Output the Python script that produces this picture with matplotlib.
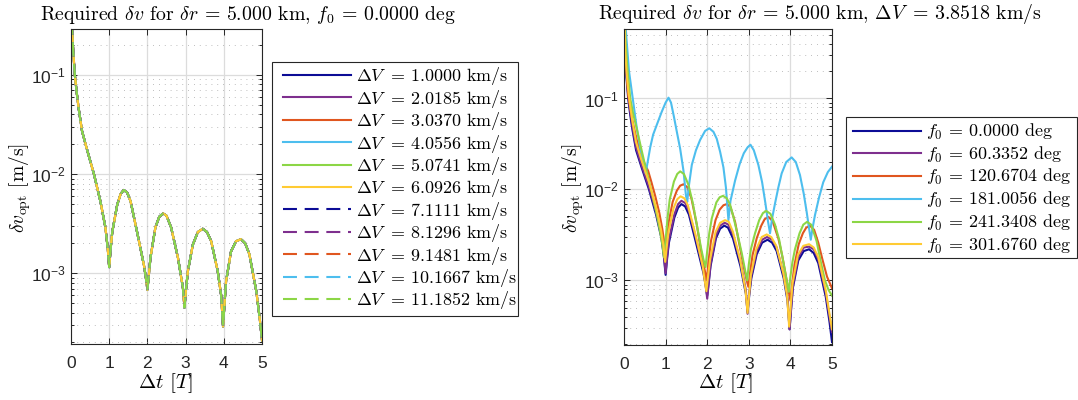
import matplotlib
matplotlib.use('Agg')
import matplotlib.pyplot as plt
from matplotlib.font_manager import FontProperties
from matplotlib.ticker import LogLocator, NullFormatter, FixedLocator
from matplotlib.patches import Rectangle

plt.rcParams['font.family'] = ['Liberation Sans', 'DejaVu Sans']
plt.rcParams['mathtext.fontset'] = 'custom'
plt.rcParams['mathtext.rm'] = 'Liberation Sans'
plt.rcParams['mathtext.it'] = 'Liberation Sans:italic'
plt.rcParams['mathtext.bf'] = 'Liberation Sans:bold'

# ---------------- data ----------------
dV_values = ['1.0000', '2.0185', '3.0370', '4.0556', '5.0741', '6.0926',
             '7.1111', '8.1296', '9.1481', '10.1667', '11.1852']
f0_values = ['0.0000', '60.3352', '120.6704', '181.0056', '241.3408', '301.6760']

# f0 = 0 deg curve (identical for every Delta V in the left panel)
t_f0_000 = [0.01, 0.03, 0.06, 0.10, 0.15, 0.20, 0.29, 0.42, 0.60, 0.77, 0.90, 0.96, 1.00,
            1.04, 1.08, 1.21, 1.30, 1.38, 1.47, 1.56, 1.73, 1.91, 1.96, 2.00, 2.04, 2.08,
            2.21, 2.31, 2.41, 2.50, 2.62, 2.80, 2.93, 2.97, 3.01, 3.06, 3.19, 3.32, 3.45,
            3.56, 3.67, 3.84, 3.93, 3.98, 4.02, 4.06, 4.19, 4.32, 4.45, 4.56, 4.67, 4.85,
            4.94, 5.00]
v_f0_000 = [0.80, 0.28, 0.17, 0.10, 0.066, 0.046, 0.027, 0.0176, 0.0100, 0.0053, 0.0029,
            0.0018, 0.00115, 0.0018, 0.0026, 0.0049, 0.0063, 0.0069, 0.0065, 0.0053, 0.0026,
            0.0012, 0.0009, 0.00068, 0.00098, 0.00143, 0.0029, 0.0037, 0.0040, 0.0038,
            0.0029, 0.00143, 0.00071, 0.00045, 0.00068, 0.00105, 0.00194, 0.0026, 0.0028,
            0.0026, 0.0021, 0.00105, 0.0006, 0.00029, 0.0005, 0.00083, 0.00166, 0.0021,
            0.0022, 0.0020, 0.00155, 0.00066, 0.00035, 0.00021]

t_f0_060 = [0.01, 0.03, 0.06, 0.10, 0.15, 0.20, 0.29, 0.42, 0.60, 0.77, 0.90, 0.96, 1.00,
            1.04, 1.08, 1.21, 1.30, 1.38, 1.47, 1.56, 1.73, 1.91, 1.96, 2.00, 2.04, 2.08,
            2.21, 2.31, 2.42, 2.51, 2.62, 2.80, 2.93, 2.97, 3.01, 3.06, 3.19, 3.32, 3.44,
            3.56, 3.67, 3.84, 3.93, 3.98, 4.02, 4.06, 4.19, 4.32, 4.45, 4.56, 4.67, 4.85,
            4.94, 5.00]
v_f0_060 = [0.80, 0.30, 0.18, 0.11, 0.072, 0.050, 0.029, 0.0185, 0.0106, 0.0057, 0.0031,
            0.0019, 0.0012, 0.0019, 0.0028, 0.0053, 0.0069, 0.0075, 0.0071, 0.0058, 0.0029,
            0.0013, 0.0009, 0.00063, 0.00098, 0.0015, 0.0031, 0.0040, 0.0043, 0.0041,
            0.0032, 0.0016, 0.00078, 0.00043, 0.00072, 0.00112, 0.0021, 0.0028, 0.0030,
            0.0028, 0.0023, 0.00115, 0.00065, 0.00029, 0.00052, 0.00088, 0.0018, 0.0023,
            0.00235, 0.0022, 0.0017, 0.00073, 0.00040, 0.00027]

t_f0_120 = [0.01, 0.03, 0.06, 0.10, 0.15, 0.20, 0.30, 0.40, 0.50, 0.58, 0.66, 0.75, 0.85,
            0.92, 0.97, 1.00, 1.03, 1.08, 1.17, 1.27, 1.35, 1.43, 1.52, 1.62, 1.75, 1.86,
            1.94, 1.99, 2.03, 2.09, 2.20, 2.30, 2.39, 2.47, 2.56, 2.67, 2.78, 2.88, 2.95,
            2.99, 3.03, 3.09, 3.19, 3.30, 3.38, 3.47, 3.57, 3.71, 3.80, 3.88, 3.95, 4.00,
            4.04, 4.10, 4.20, 4.30, 4.38, 4.47, 4.57, 4.67, 4.77, 4.88, 5.00]
v_f0_120 = [0.85, 0.36, 0.20, 0.11, 0.080, 0.058, 0.036, 0.025, 0.019, 0.016, 0.012,
            0.0085, 0.0055, 0.0037, 0.0026, 0.0019, 0.0028, 0.0045, 0.0073, 0.0097, 0.0110,
            0.0114, 0.0106, 0.0080, 0.0041, 0.0020, 0.0013, 0.00100, 0.0016, 0.0027, 0.0046,
            0.0060, 0.0067, 0.0069, 0.0064, 0.0044, 0.0024, 0.0014, 0.0010, 0.00085, 0.0012,
            0.0019, 0.0029, 0.0040, 0.0047, 0.0050, 0.0045, 0.0029, 0.0019, 0.0012, 0.00080,
            0.00060, 0.0009, 0.0015, 0.0025, 0.0033, 0.0038, 0.0040, 0.0036, 0.0026, 0.0017,
            0.0011, 0.00082]

t_f0_181 = [0.01, 0.06, 0.12, 0.21, 0.30, 0.38, 0.45, 0.52, 0.56, 0.63, 0.70, 0.80, 0.905,
            1.00, 1.07, 1.13, 1.20, 1.27, 1.35, 1.43, 1.49, 1.52, 1.56, 1.63, 1.73, 1.83,
            1.95, 2.05, 2.15, 2.23, 2.31, 2.39, 2.45, 2.51, 2.56, 2.67, 2.78, 2.88, 2.97,
            3.04, 3.12, 3.23, 3.32, 3.40, 3.46, 3.51, 3.56, 3.63, 3.71, 3.79, 3.90, 4.03,
            4.13, 4.23, 4.32, 4.39, 4.45, 4.49, 4.53, 4.59, 4.69, 4.79, 4.90, 5.00]
v_f0_181 = [1.0, 0.45, 0.20, 0.10, 0.050, 0.030, 0.021, 0.015, 0.019, 0.029, 0.040, 0.053,
            0.071, 0.090, 0.102, 0.090, 0.063, 0.043, 0.028, 0.016, 0.0085, 0.0073, 0.011,
            0.0186, 0.027, 0.035, 0.044, 0.047, 0.043, 0.036, 0.026, 0.0175, 0.0105, 0.0046,
            0.0075, 0.0125, 0.019, 0.025, 0.029, 0.031, 0.027, 0.0186, 0.012, 0.0070, 0.0045,
            0.0033, 0.0048, 0.0070, 0.0105, 0.0150, 0.020, 0.0225, 0.020, 0.0144, 0.0090,
            0.0057, 0.0037, 0.0028, 0.0037, 0.0052, 0.0082, 0.0120, 0.0155, 0.0178]

t_f0_241 = [0.01, 0.04, 0.08, 0.15, 0.22, 0.30, 0.40, 0.50, 0.60, 0.70, 0.80, 0.87, 0.92,
            0.96, 1.00, 1.05, 1.10, 1.20, 1.28, 1.35, 1.44, 1.55, 1.65, 1.75, 1.85, 1.91,
            1.96, 2.00, 2.05, 2.11, 2.22, 2.30, 2.38, 2.47, 2.55, 2.63, 2.73, 2.83, 2.91,
            2.96, 3.00, 3.05, 3.15, 3.25, 3.34, 3.42, 3.52, 3.63, 3.73, 3.83, 3.91, 3.96,
            4.00, 4.05, 4.11, 4.22, 4.31, 4.40, 4.50, 4.63, 4.73, 4.83, 4.92, 5.00]
v_f0_241 = [0.80, 0.40, 0.22, 0.10, 0.068, 0.048, 0.030, 0.019, 0.0125, 0.0080, 0.0050,
            0.0034, 0.0025, 0.0018, 0.0028, 0.0050, 0.0078, 0.0122, 0.0148, 0.0158, 0.0148,
            0.0112, 0.0072, 0.0041, 0.0023, 0.0017, 0.0014, 0.0021, 0.0033, 0.0048, 0.0072,
            0.0082, 0.0085, 0.0080, 0.0068, 0.0050, 0.0032, 0.0020, 0.0013, 0.0010, 0.0015,
            0.0022, 0.0033, 0.0046, 0.0055, 0.0058, 0.0054, 0.0041, 0.0028, 0.0016, 0.0010,
            0.00075, 0.0011, 0.0016, 0.0022, 0.0033, 0.0041, 0.0044, 0.0041, 0.0027, 0.0016,
            0.0010, 0.00078, 0.00068]

t_f0_301 = [0.01, 0.03, 0.06, 0.10, 0.15, 0.20, 0.29, 0.42, 0.60, 0.77, 0.89, 0.95, 0.99,
            1.03, 1.07, 1.19, 1.28, 1.36, 1.45, 1.54, 1.71, 1.89, 1.94, 1.98, 2.02, 2.07,
            2.20, 2.31, 2.43, 2.52, 2.62, 2.79, 2.92, 2.97, 3.01, 3.05, 3.18, 3.31, 3.43,
            3.54, 3.66, 3.83, 3.92, 3.97, 4.01, 4.05, 4.18, 4.31, 4.45, 4.56, 4.67, 4.85,
            4.94, 5.00]
v_f0_301 = [0.80, 0.33, 0.20, 0.125, 0.082, 0.057, 0.033, 0.021, 0.0120, 0.0064, 0.0036,
            0.0024, 0.0016, 0.0024, 0.0034, 0.0062, 0.0078, 0.0084, 0.0080, 0.0066, 0.0033,
            0.00145, 0.0010, 0.00076, 0.0011, 0.0017, 0.0034, 0.0043, 0.0046, 0.0044, 0.0034,
            0.0017, 0.00078, 0.00044, 0.00072, 0.00115, 0.0022, 0.0030, 0.0032, 0.0030,
            0.0024, 0.0012, 0.00068, 0.00031, 0.00054, 0.00092, 0.0019, 0.0024, 0.0025,
            0.0023, 0.0018, 0.00078, 0.00043, 0.00029]

right_t = [t_f0_000, t_f0_060, t_f0_120, t_f0_181, t_f0_241, t_f0_301]
right_v = [v_f0_000, v_f0_060, v_f0_120, v_f0_181, v_f0_241, v_f0_301]

colors = ['#0c0c96', '#7E2F8E', '#E0561F', '#4DBEEE', '#8CD646', '#FFCB33']

# ---------------- figure ----------------
W, H = 1078, 400
fig = plt.figure(figsize=(W / 100, H / 100), dpi=100)
renderer = fig.canvas.get_renderer()
cmfont = dict(family='cmr10', math_fontfamily='cm')
axis_col = '#262626'


def text_width(s, size):
    t = fig.text(0, 0, s, fontsize=size, **cmfont)
    w = t.get_window_extent(renderer=renderer).width
    t.remove()
    return w


def fit_size(s, target_px, size=14.0):
    for _ in range(3):
        size = size * target_px / text_width(s, size)
    return size


def px_axes(x0, y0, x1, y1):
    return fig.add_axes([x0 / W, 1 - y1 / H, (x1 - x0) / W, (y1 - y0) / H])

axL = px_axes(71, 29, 262, 344)
axR = px_axes(624, 29, 832, 345)

lw = 1.5
dash = (0, (6.7, 3.7))

for i, lab in enumerate(dV_values):
    ls = '-' if i < 6 else dash
    axL.plot(t_f0_000, v_f0_000, color=colors[i % 6], lw=lw, linestyle=ls,
             label=r'$\Delta V\,$ = %s km/s' % lab)

for i, lab in enumerate(f0_values):
    axR.plot(right_t[i], right_v[i], color=colors[i], lw=lw,
             label=r'$f_0$ = %s deg' % lab)

xlab = r'$\Delta t$ [$T$]'
ylab = r'$\delta v_{\rm opt}$ [m/s]'
xlab_size = fit_size(xlab, 55)
ylab_size = fit_size(ylab, 90)

for ax, ylim, xl_c, yl_c in ((axL, (1.93e-4, 0.29), (165.5, 383), (20, 188)),
                             (axR, (1.95e-4, 0.58), (725.5, 383), (573.5, 188))):
    ax.set_yscale('log')
    ax.set_xlim(0, 5)
    ax.set_ylim(*ylim)
    ax.set_xticks([0, 1, 2, 3, 4, 5])
    ax.set_xticklabels(['0', '1', '2', '3', '4', '5'])
    ax.yaxis.set_major_locator(FixedLocator([1e-3, 1e-2, 1e-1]))
    ax.set_yticklabels([r'$10^{-3}$', r'$10^{-2}$', r'$10^{-1}$'])
    ax.yaxis.set_minor_locator(LogLocator(base=10, subs=[2, 3, 4, 5, 6, 7, 8, 9], numticks=20))
    ax.yaxis.set_minor_formatter(NullFormatter())
    ax.tick_params(which='both', direction='in', top=True, right=True,
                   colors=axis_col, labelsize=12.5, width=0.7)
    ax.tick_params(which='major', length=4)
    ax.tick_params(which='minor', length=2.2)
    ax.tick_params(axis='x', pad=8.5)
    ax.tick_params(axis='y', pad=4)
    ax.grid(True, which='major', color='#dcdcdc', lw=0.9, ls='-')
    ax.grid(True, which='minor', axis='y', color='#a8a8a8', lw=0.6, ls=(0, (1, 6)))
    ax.set_axisbelow(True)
    for s in ax.spines.values():
        s.set_color(axis_col)
        s.set_linewidth(0.8)
    ax.set_xlabel(xlab, fontsize=xlab_size, va='center', ha='center', **cmfont)
    ax.xaxis.set_label_coords(xl_c[0] / W, 1 - xl_c[1] / H, transform=fig.transFigure)
    ax.set_ylabel(ylab, fontsize=ylab_size, va='center', ha='center', **cmfont)
    ax.yaxis.set_label_coords(yl_c[0] / W, 1 - yl_c[1] / H, transform=fig.transFigure)

titleL = r'Required $\delta v$ for $\delta r$ = 5.000 km, $f_0$ = 0.0000 deg'
titleR = r'Required $\delta v$ for $\delta r$ = 5.000 km, $\Delta V\,$ = 3.8518 km/s'
title_size = fit_size(titleR, 444)
fig.text(40 / W, 1 - 19.5 / H, titleL, ha='left', va='baseline', fontsize=title_size, **cmfont)
fig.text(598 / W, 1 - 19.5 / H, titleR, ha='left', va='baseline', fontsize=title_size, **cmfont)

# ---------------- legends (positions in pixels measured on the reference) ----------------
leg_size = fit_size(r'$\Delta V\,$ = 1.0000 km/s', 152)
legprop = FontProperties(family='cmr10', size=leg_size, math_fontfamily='cm')
fs_px = leg_size * 100 / 72


def make_legend(ax, ls, anchor=(0.0, 1.0)):
    return ax.legend(loc='upper left', bbox_to_anchor=anchor, bbox_transform=fig.transFigure,
                     prop=legprop, frameon=False, borderpad=0, borderaxespad=0,
                     handlelength=68 / fs_px, handletextpad=5 / fs_px, labelspacing=ls)


def handle_geom(leg):
    fig.canvas.draw()
    r = fig.canvas.get_renderer()
    bbs = [ln.get_window_extent(r) for ln in leg.get_lines()]
    ys = [(b.y0 + b.y1) / 2 for b in bbs]
    return bbs[0].x0, ys

specs = [(axL, 283, 75, 22.4, (272, 62, 518, 316)),
         (axR, 853, 130.7, 22.7, (846, 117, 1077, 258))]
for ax, hx, row0, spacing, box in specs:
    ls = 0.0
    leg = make_legend(ax, ls)
    x0, ys = handle_geom(leg)
    meas = (ys[0] - ys[-1]) / (len(ys) - 1)
    ls = ls + (spacing - meas) / fs_px
    leg = make_legend(ax, ls)
    x0, ys = handle_geom(leg)
    dx = hx - x0
    dy = (H - row0) - ys[0]
    leg = make_legend(ax, ls, anchor=(dx / W, 1 + dy / H))
    bx0, by0, bx1, by1 = box
    fig.add_artist(Rectangle((bx0 / W, 1 - by1 / H), (bx1 - bx0) / W, (by1 - by0) / H,
                             transform=fig.transFigure, facecolor='none',
                             edgecolor=axis_col, lw=0.8))

fig.savefig('out.png', dpi=100)
